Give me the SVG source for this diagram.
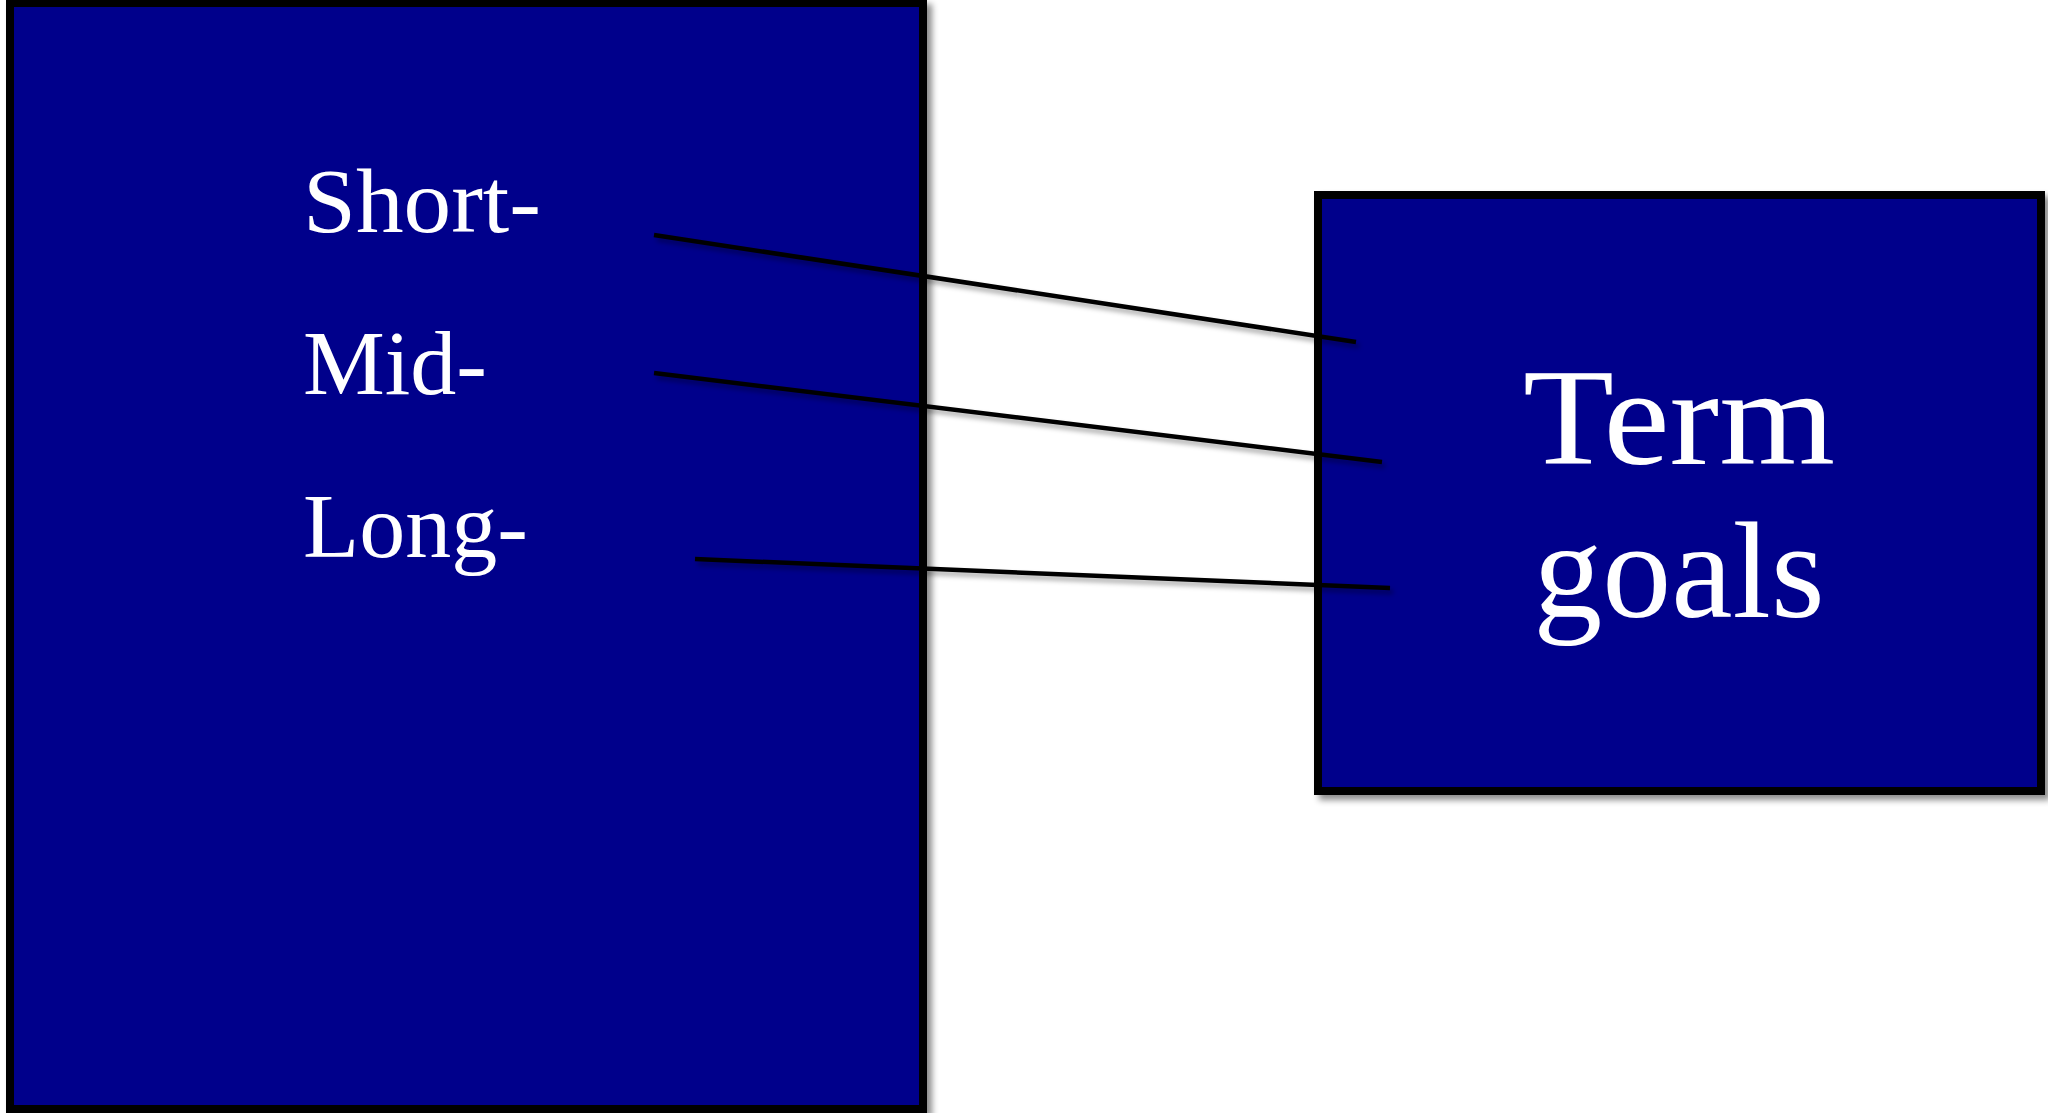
<svg xmlns="http://www.w3.org/2000/svg" width="2048" height="1113" viewBox="0 0 2048 1113">
  <style>
    .box { fill: #00008B; stroke: #000000; stroke-width: 8; filter: url(#shadow); }
    .lbl { fill: #FFFFFF; font-family: "Liberation Serif", "Times New Roman", serif; }
    .conn { stroke: #000000; stroke-width: 4.5; fill: none; filter: url(#lshadow); }
  </style>
  <defs>
    <filter id="shadow" x="-5%" y="-5%" width="115%" height="115%">
      <feDropShadow dx="5" dy="5" stdDeviation="3" flood-color="#000000" flood-opacity="0.45"/>
    </filter>
    <filter id="lshadow" x="-5%" y="-50%" width="115%" height="300%">
      <feDropShadow dx="3" dy="4" stdDeviation="2.5" flood-color="#000000" flood-opacity="0.35"/>
    </filter>
  </defs>
  <rect width="2048" height="1113" fill="#FFFFFF"/>
  <g id="node-left">
    <rect class="box" x="10" y="3" width="913" height="1106"/>
    <text class="lbl" x="303" y="232" font-size="92" textLength="238" lengthAdjust="spacingAndGlyphs">Short-</text>
    <text class="lbl" x="303" y="394" font-size="92">Mid-</text>
    <text class="lbl" x="303" y="557" font-size="92">Long-</text>
  </g>
  <g id="node-right">
    <rect class="box" x="1318" y="195" width="723" height="596"/>
    <text class="lbl" x="1679" y="464" font-size="138" text-anchor="middle" textLength="312" lengthAdjust="spacingAndGlyphs">Term</text>
    <text class="lbl" x="1679" y="617" font-size="138" text-anchor="middle">goals</text>
  </g>
  <g id="connectors">
    <line class="conn" x1="654" y1="235" x2="1356" y2="342"/>
    <line class="conn" x1="654" y1="373" x2="1382" y2="462"/>
    <line class="conn" x1="695" y1="559" x2="1390" y2="588"/>
  </g>
</svg>
